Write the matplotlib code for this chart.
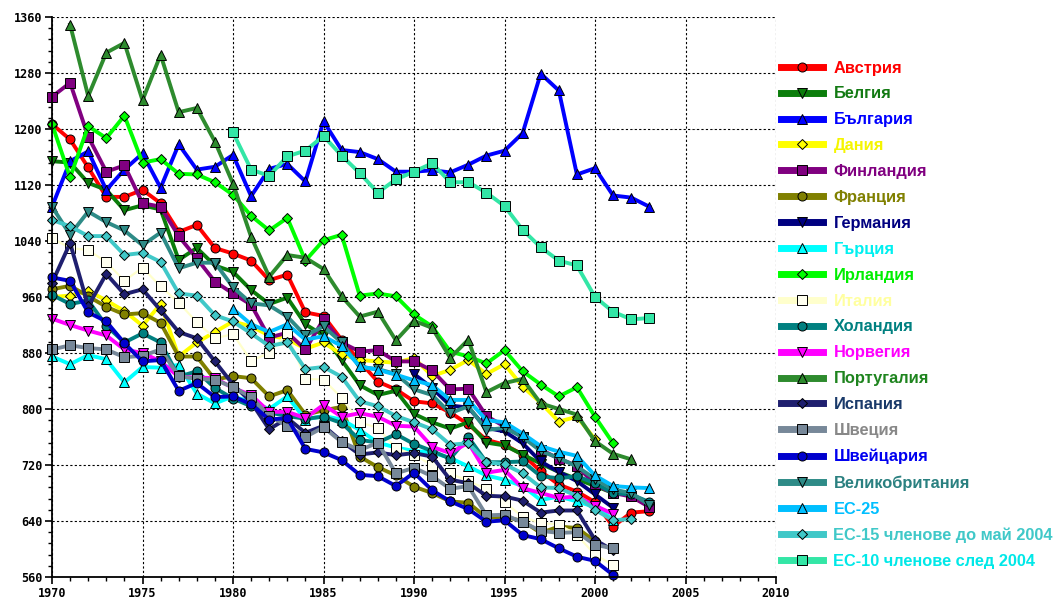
import numpy as np
import matplotlib
matplotlib.use('Agg')
import matplotlib.pyplot as plt
from matplotlib.ticker import MultipleLocator
from matplotlib.font_manager import FontProperties

years = np.arange(1970, 2004)
N = None

austria = [1207, 1185, 1145, 1103, 1103, 1113, 1094, 1053, 1063, 1030, 1022, 1012, 984, 992, 938, 933, 899,
           868, 839, 828, 811, 808, 795, 778, 756, 749, 735, 711, 692, 682, 667, 632, 652, 654]
belgium = [1154, 1152, 1123, 1113, 1084, 1091, 1085, 1013, 1030, 1005, 996, 970, 950, 959, 921, 905, 870,
           834, 820, 826, 793, 781, 772, 781, 752, 748, 735, 722, 710, 700, 690, 680, N, N]
bulgaria = [1089, 1154, 1168, 1113, 1142, 1165, 1116, 1178, 1142, 1146, 1163, 1104, 1143, 1150, 1125, 1211, 1170,
            1167, 1157, 1139, 1139, 1141, 1138, 1149, 1162, 1169, 1194, 1279, 1255, 1135, 1144, 1105, 1102, 1089]
denmark = [960, 962, 969, 955, 940, 919, 950, 875, 895, 910, 925, 918, 905, 900, 886, 895, 878,
           870, 868, 866, 873, 847, 856, 870, 850, 864, 832, 809, 782, 789, 757, N, N, N]
finland = [1246, 1266, 1189, 1139, 1148, 1094, 1089, 1047, 1015, 982, 965, 949, 902, 909, 885, 928, 895,
           882, 884, 868, 868, 855, 828, 829, 790, 775, 760, 742, 729, 719, 692, 680, 675, 660]
france = [971, 976, 961, 946, 935, 937, 923, 875, 875, 842, 847, 844, 818, 827, 792, 798, 803,
          732, 717, 705, 689, 680, 668, 666, 645, 646, 640, 623, 632, 630, 611, N, N, N]
germany = [N] * 20 + [850, 830, 805, 802, 773, 768, 751, 725, 710, 697, 678, 659, N, N]
greece = [875, 864, 877, 871, 838, 860, 859, 863, 822, 808, 818, 810, 800, 818, 785, 790, 785,
          770, 752, 745, 740, 738, 730, 718, 705, 699, 690, 670, 675, 668, 660, 642, N, N]
ireland = [1207, 1131, 1204, 1187, 1219, 1152, 1157, 1136, 1135, 1124, 1106, 1076, 1055, 1073, 1012, 1041, 1049,
           962, 965, 961, 935, 918, 882, 875, 865, 884, 854, 835, 818, 831, 789, 751, N, N]
italy = [1044, 1030, 1027, 1010, 983, 1002, 975, 952, 924, 901, 907, 869, 880, 908, 843, 842, 816,
         781, 773, 744, 735, 720, 708, 697, 686, 667, 646, 637, 635, 620, 592, 577, N, N]
netherlands = [963, 950, 955, 919, 895, 908, 895, 846, 854, 830, 815, 804, 795, 790, 786, 789, 780,
               756, 752, 764, 750, 740, 729, 760, 724, 724, 725, 704, 701, 704, 694, 680, 678, 667]
norway = [929, 920, 912, 905, 885, 880, 868, 846, 845, 844, 830, 820, 796, 796, 787, 806, 789,
          794, 789, 776, 775, 746, 737, 752, 709, 713, 687, 680, 673, 675, 662, 650, N, N]
portugal = [N, 1349, 1247, 1309, 1323, 1241, 1306, 1224, 1230, 1182, 1122, 1046, 989, 1020, 1016, 1000, 961,
            932, 939, 898, 926, 916, 873, 899, 824, 837, 843, 808, 800, 792, 754, 736, 728, N]
spain = [980, 1037, 947, 993, 964, 971, 941, 910, 901, 868, 835, 810, 771, 787, 766, 776, 754,
         735, 738, 734, 737, 732, 699, 694, 676, 675, 669, 652, 655, 655, 613, 598, N, N]
sweden = [885, 891, 887, 885, 874, 876, 885, 847, 843, 842, 831, 817, 790, 776, 760, 774, 753,
          741, 752, 708, 716, 704, 686, 690, 648, 649, 638, 626, 623, 624, 606, 601, N, N]
switzerland = [988, 983, 938, 925, 894, 868, 870, 826, 837, 817, 818, 807, 785, 787, 743, 738, 727,
               706, 704, 690, 709, 684, 668, 657, 639, 641, 620, 614, 601, 589, 583, 563, N, N]
uk = [1089, 1049, 1082, 1067, 1055, 1034, 1052, 1001, 1009, 1009, 974, 951, 948, 932, 905, 918, 895,
      860, 857, 850, 828, 820, 794, 804, 770, 773, 760, 740, 730, 718, 700, 685, 680, 663]
eu25 = [N] * 10 + [943, 921, 910, 921, 899, 904, 890, 861, 856, 849, 841, 834, 813, 813, 784, 781, 765,
                   747, 739, 733, 705, 690, 688, 687]
eu15 = [1070, 1061, 1047, 1047, 1020, 1023, 1010, 965, 962, 934, 925, 908, 890, 895, 857, 860, 846,
        811, 804, 790, 781, 771, 749, 751, 724, 721, 708, 688, 687, 676, 656, 641, 643, N]
eu10 = [N] * 10 + [1195, 1142, 1133, 1161, 1169, 1190, 1162, 1137, 1109, 1128, 1139, 1151, 1124, 1124, 1109,
                   1090, 1056, 1031, 1012, 1005, 960, 939, 928, 930]

# label, data, line colour, marker face, marker, text colour
series = [
    ("Австрия", austria, '#FF0000', '#FF0000', 'o', '#FF0000'),
    ("Белгия", belgium, '#0B7D0B', '#0B7D0B', 'v', '#137A13'),
    ("България", bulgaria, '#0000FF', '#0000FF', '^', '#0000FF'),
    ("Дания", denmark, '#FFFF00', '#FFFF00', 'D', '#F5F500'),
    ("Финландия", finland, '#800080', '#800080', 's', '#800080'),
    ("Франция", france, '#808000', '#808000', 'o', '#808000'),
    ("Германия", germany, '#000080', '#000080', 'v', '#000080'),
    ("Гърция", greece, '#00FFFF', '#00FFFF', '^', '#00F0F0'),
    ("Ирландия", ireland, '#00FF00', '#00FF00', 'D', '#00EE00'),
    ("Италия", italy, '#FFFFCC', '#FFFFF0', 's', '#FFFFA0'),
    ("Холандия", netherlands, '#008080', '#008080', 'o', '#008080'),
    ("Норвегия", norway, '#FF00FF', '#FF00FF', 'v', '#FF00FF'),
    ("Португалия", portugal, '#2E8B2E', '#2E8B2E', '^', '#1E841E'),
    ("Испания", spain, '#1F1F6F', '#1F1F6F', 'D', '#1A3A6A'),
    ("Швеция", sweden, '#778899', '#778899', 's', '#888888'),
    ("Швейцария", switzerland, '#0000CD', '#0000CD', 'o', '#0000F0'),
    ("Великобритания", uk, '#2E8B87', '#2E8B87', 'v', '#2A8080'),
    ("ЕС-25", eu25, '#00BFFF', '#00BFFF', '^', '#00BFFF'),
    ("ЕС-15 членове до май 2004", eu15, '#40C8C8', '#40C8C8', 'D', '#40C8C8'),
    ("ЕС-10 членове след 2004", eu10, '#33E6A6', '#33E6A6', 's', '#00E8E8'),
]

fig = plt.figure(figsize=(10.58, 5.98), dpi=100)
ax = fig.add_axes([52 / 1058, 21 / 598, 724 / 1058, 560 / 598])

handles = []
for label, data, lc, mf, mk, tc in series:
    y = np.array(data, dtype=float)
    ms = 5.5 if mk == 'D' else 6.5
    lw = 1.6 if label == "Италия" else 2.8
    h, = ax.plot(years, y, color=lc, lw=lw, marker=mk, ms=ms, mfc=mf, mec='black', mew=0.7,
                 label=label, clip_on=False)
    handles.append(h)

ax.set_xlim(1970, 2010)
ax.set_ylim(560, 1360)
ax.xaxis.set_major_locator(MultipleLocator(5))
ax.xaxis.set_minor_locator(MultipleLocator(1))
ax.yaxis.set_major_locator(MultipleLocator(80))
ax.yaxis.set_minor_locator(MultipleLocator(16))
ax.grid(True, which='major', color='black', linestyle=(0, (2, 2)), linewidth=0.8)
for s in ['top', 'right']:
    ax.spines[s].set_visible(False)
for s in ['left', 'bottom']:
    ax.spines[s].set_linewidth(1.3)
ax.tick_params(which='major', direction='out', length=5, width=1.2, pad=2)
ax.tick_params(which='minor', direction='out', length=3, width=1)
for t in ax.get_xticklabels() + ax.get_yticklabels():
    t.set_fontfamily('DejaVu Sans Mono')
    t.set_fontweight('bold')
    t.set_fontsize(8.5)

leg = fig.legend(handles=handles, loc='upper left', bbox_to_anchor=(781 / 1058, 1 - 60.5 / 598),
                 frameon=False, prop=FontProperties(family='Liberation Sans', weight='bold', size=11.8),
                 handlelength=2.55, handletextpad=0.65, labelspacing=0.665, borderpad=0,
                 borderaxespad=0, labelcolor=[s[5] for s in series])
for l in leg.get_lines():
    l.set_linewidth(5)

fig.savefig('out.png', dpi=100)
